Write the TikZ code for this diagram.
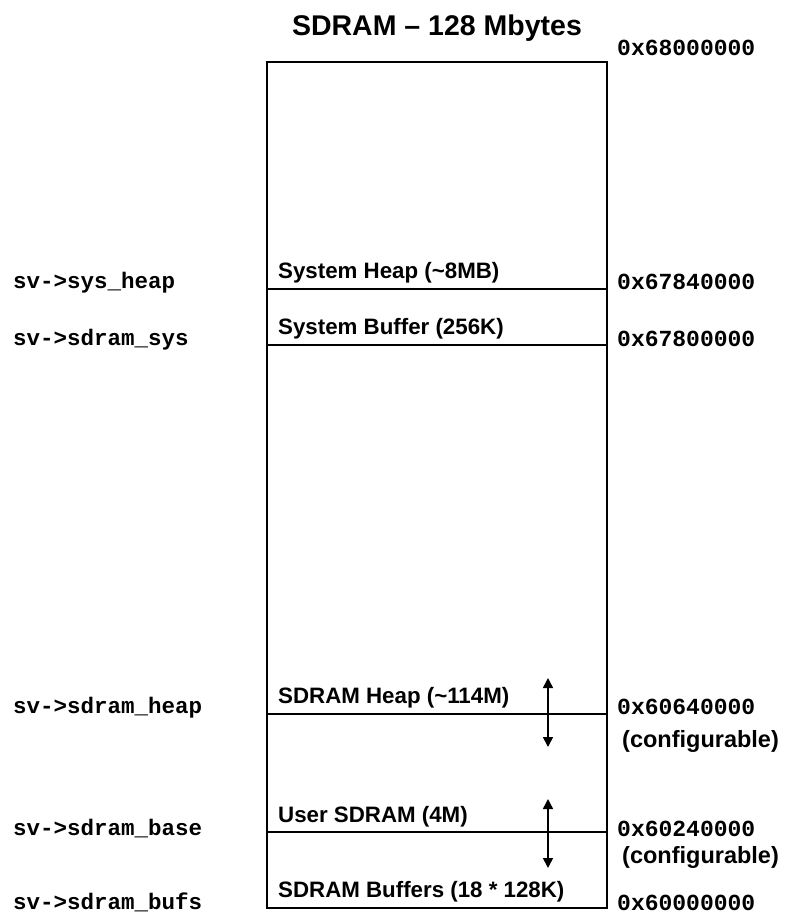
\documentclass[tikz,border=0pt]{standalone}
\usepackage{fontspec}
\setmainfont{Liberation Sans}
\newfontfamily\codefont{Liberation Mono}
\usetikzlibrary{arrows.meta}
\begin{document}
\begin{tikzpicture}[x=1pt,y=-1pt,
  boxlabel/.style={anchor=base west,inner sep=0pt,font=\fontsize{22.3}{25}\selectfont\bfseries},
  addr/.style={anchor=base west,inner sep=0pt,font=\fontsize{23}{26}\codefont\bfseries},
  ptr/.style={anchor=base west,inner sep=0pt,font=\fontsize{22.5}{26}\codefont\bfseries},
  note/.style={anchor=base west,inner sep=0pt,font=\fontsize{23.5}{26}\selectfont\bfseries},
  divider/.style={line width=1.1pt},
  moveable/.style={line width=1.6pt,{Triangle[length=10pt,width=10pt]}-{Triangle[length=10pt,width=10pt]}}]
\useasboundingbox (0,0) rectangle (788,914);
% title
\node[anchor=base,inner sep=0pt,font=\fontsize{28.5}{32}\selectfont\bfseries] (title) at (437,35) {SDRAM – 128 Mbytes};
% memory box
\coordinate (tl) at (267,62);
\coordinate (br) at (607,908);
\draw[line width=1.6pt] (tl) rectangle (br);
\coordinate (l1) at (267,289); \coordinate (r1) at (607,289);
\coordinate (l2) at (267,345); \coordinate (r2) at (607,345);
\coordinate (l3) at (267,714); \coordinate (r3) at (607,714);
\coordinate (l4) at (267,832); \coordinate (r4) at (607,832);
\draw[divider] (l1) -- (r1);
\draw[divider] (l2) -- (r2);
\draw[divider] (l3) -- (r3);
\draw[divider] (l4) -- (r4);
% region labels
\node[boxlabel] (sh) at (278,278) {System Heap (\textasciitilde 8MB)};
\node[boxlabel] (sb) at (278,334) {System Buffer (256K)};
\node[boxlabel] (dh) at (278,703) {SDRAM Heap (\textasciitilde 114M)};
\node[boxlabel] (us) at (278,822) {User SDRAM (4M)};
\node[boxlabel] (db) at (278,897) {SDRAM Buffers (18 * 128K)};
% arrows
\coordinate (a1t) at (548,678); \coordinate (a1b) at (548,747);
\coordinate (a2t) at (548,799); \coordinate (a2b) at (548,868);
\draw[moveable] (a1t) -- (a1b);
\draw[moveable] (a2t) -- (a2b);
% addresses
\node[addr] (h1) at (617,55) {0x68000000};
\node[addr] (h2) at (617,289) {0x67840000};
\node[addr] (h3) at (617,346) {0x67800000};
\node[addr] (h4) at (617,714) {0x60640000};
\node[addr] (h5) at (617,836) {0x60240000};
\node[addr] (h6) at (617,910) {0x60000000};
\node[note] (c1) at (622,747) {(configurable)};
\node[note] (c2) at (622,863) {(configurable)};
% pointers
\node[ptr] (p1) at (13,288) {sv->sys\_heap};
\node[ptr] (p2) at (13,345) {sv->sdram\_sys};
\node[ptr] (p3) at (13,713) {sv->sdram\_heap};
\node[ptr] (p4) at (13,835) {sv->sdram\_base};
\node[ptr] (p5) at (13,909) {sv->sdram\_bufs};
\end{tikzpicture}
\end{document}
